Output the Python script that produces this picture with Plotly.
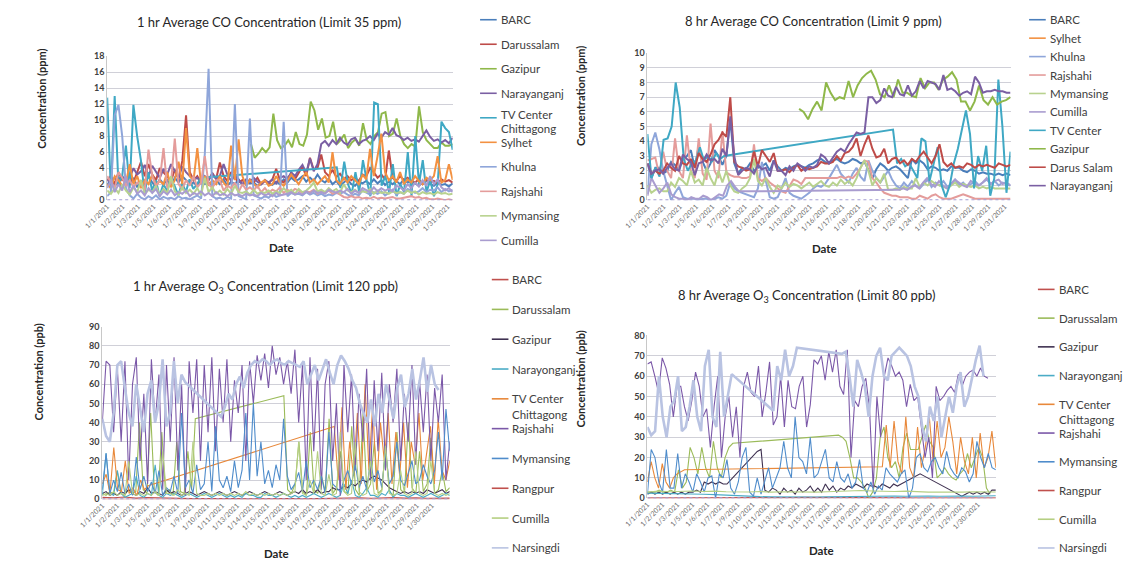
import numpy as np
import plotly.graph_objects as go

W, H = 1126, 567

# ---------------- tick labels ----------------
ticks_top = ["1/1/2021", "1/2/2021", "1/3/2021", "1/5/2021", "1/6/2021", "1/7/2021", "1/9/2021",
             "1/10/2021", "1/12/2021", "1/13/2021", "1/14/2021", "1/16/2021", "1/17/2021", "1/18/2021",
             "1/20/2021", "1/21/2021", "1/23/2021", "1/24/2021", "1/25/2021", "1/27/2021", "1/28/2021",
             "1/29/2021", "1/31/2021"]
ticks_bottom = ["1/1/2021", "1/2/2021", "1/3/2021", "1/5/2021", "1/6/2021", "1/7/2021", "1/9/2021",
                "1/10/2021", "1/11/2021", "1/13/2021", "1/14/2021", "1/15/2021", "1/17/2021", "1/18/2021",
                "1/19/2021", "1/21/2021", "1/22/2021", "1/23/2021", "1/25/2021", "1/26/2021", "1/27/2021",
                "1/29/2021", "1/30/2021"]

# ---------------- 1 hr CO (ppm) ----------------
co1_barc = [2.0, 2.4, 1.8, 2.2, 1.5, 2.6, 2.0, 2.8, 1.6, 2.4, 2.0, 3.0, 2.2, 1.8, 2.6, 2.0, 2.5, 1.7,
            2.8, 2.2, 3.0, 2.5, 2.0, 2.2, 1.8, 2.4, 2.0, 2.2, 1.6, 2.5, 2.0, 2.6, 1.8, 2.3, 2.0, 2.6,
            1.9, 2.4, 2.1, 2.2, 1.8, 2.0, 2.5, 2.1, 1.9, 2.3, 2.0, 2.6, 2.2, 2.8, 2.4, 2.6, 3.0, 2.3,
            2.8, 2.4, 3.2, 2.5, 2.2, 2.7, 2.0, 2.4, 1.8, 2.2, 2.6, 2.0, 1.8, 2.3, 2.1, 2.4, 2.0, 2.6,
            2.1, 2.5, 1.9, 2.3, 2.0, 2.4, 2.0, 2.6, 2.2, 2.4, 2.1, 1.8, 2.2, 2.5, 2.0, 1.8, 2.2, 1.9,
            2.0, 1.7, 2.1]
co1_darussalam = [2.5, 3.0, 2.0, 3.5, 2.5, 2.8, 3.0, 2.2, 3.5, 4.8, 3.0, 4.5, 3.2, 2.5, 4.0, 3.5, 3.0,
                  2.4, 3.8, 2.6, 4.9, 10.6, 3.5, 2.5, 3.0, 2.2, 2.8, 2.5, 3.4, 2.6, 4.7, 3.0, 2.4, 3.5,
                  2.8, 2.2, 2.5, 2.0, 2.6, 2.2, 2.8, 2.0, 2.4, 2.1, 2.6, 3.9, 2.5, 2.2, 2.8, 3.2, 2.6,
                  3.5, 4.2, 3.0, 5.3, 3.8, 4.0, 5.7, 3.5, 3.0, 3.8, 2.9, 3.3, 2.6, 3.0, 2.5, 2.8, 2.4,
                  3.2, 3.0, 4.0, 3.5, 2.8, 3.2, 2.6, 6.2, 2.8, 2.4, 3.0, 2.5, 2.8, 2.4, 2.2, 2.6, 2.0,
                  2.5, 2.2, 2.4, 2.1, 2.6, 2.3, 2.5, 2.2]
co1_gazipur = [7.0, 5.3, 5.8, 6.5, 6.0, 6.6, 10.8, 7.5, 6.5, 6.8, 7.5, 6.6, 8.5, 7.0, 6.8, 8.2, 12.3,
               11.2, 8.8, 10.2, 7.8, 8.0, 9.8, 7.0, 7.5, 8.2, 6.5, 7.2, 7.6, 6.8, 9.6, 7.5, 7.0, 8.0,
               8.5, 10.8, 11.0, 8.0, 8.3, 10.2, 8.0, 7.0, 6.5, 7.0, 6.7, 11.7, 8.5, 7.5, 7.0, 6.5,
               6.5, 7.2, 6.8, 6.8, 7.0]
co1_narayanganj = [2.5, 2.3, 2.8, 2.6, 3.0, 2.4, 2.8, 4.0, 3.2, 3.6, 4.4, 3.0, 4.3, 3.5, 2.8, 3.9, 3.2,
                   4.5, 3.6, 2.8, 4.2, 3.5, 3.0, 2.5, 2.8, 2.2, 3.0, 2.5, 3.3, 2.7, 3.0, 4.5, 3.2, 2.4,
                   3.1, 2.6, 2.0, 2.6, 2.2, 2.8, 2.3, 2.0, 2.5, 2.2, 2.6, 2.1, 2.8, 3.0, 2.6, 3.5, 3.0,
                   3.8, 4.4, 3.4, 5.2, 3.6, 4.5, 7.0, 7.4, 6.8, 7.5, 7.0, 7.8, 7.2, 6.9, 7.6, 7.8, 7.0,
                   7.4, 7.6, 8.0, 7.5, 8.3, 7.8, 8.5, 8.2, 9.0, 8.1, 7.9, 7.5, 7.8, 7.4, 7.6, 7.3, 8.0,
                   8.7, 7.9, 7.4, 7.6, 7.2, 7.5, 7.1, 7.8]
co1_tvcenter_a = [12.8, 1.0, 13.0, 2.0, 3.0, 6.8, 1.5, 11.9, 8.0, 5.0, 0.8, 3.5, 1.2, 2.5, 0.5, 2.0,
                  1.2, 2.5, 1.8, 0.6, 2.2, 1.0, 2.6, 1.4, 2.0, 2.8]
co1_tvcenter_b = [4.1, 1.5, 4.8, 2.0, 0.8, 3.5, 1.0, 5.0, 2.5, 0.5, 12.2, 12.0, 1.8, 3.0, 1.0, 4.5,
                  0.5, 2.0, 1.0, 6.0, 0.5, 8.0, 2.0, 5.0, 1.0, 2.5, 0.5, 2.0, 9.8, 9.0, 8.5, 6.3]
co1_sylhet = [2.0, 1.5, 3.0, 2.5, 1.8, 2.2, 4.5, 2.0, 3.0, 1.5, 2.5, 2.0, 3.2, 1.8, 2.4, 2.0, 3.5, 1.6,
              2.5, 4.8, 2.0, 9.0, 3.0, 2.5, 6.5, 2.0, 3.0, 1.8, 2.5, 2.0, 3.0, 2.2, 1.6, 6.8, 2.5, 7.6,
              3.0, 1.8, 2.5, 2.0, 1.6, 2.2, 2.5, 1.8, 2.0, 3.0, 2.2, 1.8, 2.4, 3.2, 2.6, 2.0, 2.8, 3.5,
              2.2, 2.6, 2.0, 2.5, 3.0, 2.2, 6.0, 2.5, 2.0, 2.8, 2.2, 3.0, 2.5, 2.0, 3.2, 2.6, 6.4, 3.0,
              5.5, 8.3, 3.5, 2.5, 3.0, 2.2, 3.5, 2.0, 2.6, 2.2, 3.0, 2.4, 2.0, 2.8, 2.5, 3.0, 5.5, 2.2,
              2.5, 4.5, 2.5]
co1_khulna = [0.5, 1.0, 10.6, 11.9, 8.0, 1.5, 0.6, 0.2, 0.8, 0.3, 0.1, 0.5, 0.2, 0.6, 0.1, 0.4, 0.2,
              0.3, 0.1, 0.5, 0.2, 0.3, 0.1, 0.4, 0.6, 0.2, 5.8, 16.4, 0.5, 0.2, 0.3, 0.1, 0.4, 0.2,
              12.0, 0.5, 0.3, 0.1, 10.2, 0.6, 0.4, 0.2, 0.5, 0.3, 0.8, 0.4, 0.6, 9.8, 0.5, 0.9, 0.7,
              0.8, 0.6, 1.0, 0.7, 0.9, 0.6, 0.8, 0.5, 0.7, 0.6, 0.9, 0.8, 1.0, 0.7, 0.5, 0.8, 0.6,
              1.2, 0.9, 0.7, 1.0, 0.8, 1.1, 0.6, 0.9, 1.3, 0.7, 1.0, 0.8, 1.4, 1.2, 0.9, 1.1, 1.5,
              1.0, 1.3, 1.2, 1.6, 1.0, 1.4, 1.1, 1.3]
co1_rajshahi = [3.0, 2.2, 1.5, 3.5, 2.8, 1.8, 2.5, 1.6, 2.2, 2.0, 1.2, 6.3, 3.0, 1.8, 2.5, 6.5, 1.5,
                2.2, 7.7, 2.0, 1.4, 2.5, 1.8, 3.0, 1.6, 2.2, 5.5, 2.0, 1.5, 2.5, 2.5, 1.2, 1.8, 1.5,
                2.2, 1.0, 2.0, 1.3, 1.6, 1.2, 1.8, 1.0, 1.5, 0.9, 1.3, 1.1, 1.6, 0.9, 1.3, 1.0, 1.4,
                1.2, 0.9, 1.1, 1.0, 1.3, 0.8, 1.1, 0.9, 1.2, 0.8, 1.0, 0.7, 0.4, 0.3, 0.5, 0.3, 0.4,
                0.2, 0.3, 0.2, 0.4, 0.2, 0.3, 0.2, 0.3, 0.4, 0.2, 0.2, 0.3, 0.4, 0.5, 0.3, 0.4, 0.2,
                0.3, 0.1, 0.1, 0.2, 0.1, 0.0, 0.1, 0.0]
co1_mymansing = [1.2, 0.8, 1.5, 0.9, 2.0, 1.2, 0.7, 1.6, 1.0, 2.5, 0.8, 1.3, 1.0, 1.8, 0.6, 1.4, 0.9,
                 3.0, 1.1, 0.7, 1.6, 0.9, 1.3, 0.8, 1.5, 0.6, 2.8, 1.0, 1.6, 0.8, 1.2, 0.7, 1.4, 0.8,
                 1.8, 1.0, 0.9, 1.1, 0.7, 1.3, 0.8, 1.0, 0.9, 1.2, 0.8, 1.1, 0.9, 1.5, 1.0, 1.3, 0.8,
                 1.4, 1.0, 1.2, 1.6, 2.2, 1.1, 1.3, 1.0, 1.5, 1.1, 1.4, 0.9, 2.0, 1.2, 1.0, 1.3, 0.9,
                 1.1, 1.0, 1.4, 0.8, 1.2, 0.9, 1.0, 0.8, 1.1, 0.9, 1.0, 0.8, 1.2, 0.9, 1.1, 0.7, 1.0,
                 0.8, 0.9, 0.7, 1.0, 0.8, 0.9, 0.7, 0.8]
co1_cumilla = [1.5, 2.5, 1.0, 2.0, 1.2, 3.0, 1.0, 1.8, 0.8, 1.2, 0.6, 1.5, 0.9, 1.4, 0.5, 1.1, 0.7,
               1.3, 0.6, 1.0, 0.8, 1.2, 0.5, 0.9, 0.7, 1.1, 0.6, 0.9, 0.5, 1.0, 0.6, 0.8, 0.5, 0.9,
               0.6, 0.7, 0.5, 0.8, 0.6, 0.7, 0.5, 0.9, 0.6, 0.8, 0.5, 0.9, 0.6, 0.7, 0.8, 1.0, 0.7,
               0.9, 0.7, 1.1, 0.8, 1.2, 0.9, 1.0, 0.8, 1.3, 1.1, 0.9, 1.2, 1.0, 1.4, 0.8, 1.2, 0.9,
               1.5, 1.3, 1.0, 1.6, 1.1, 1.5, 1.2, 1.4, 1.1, 1.8, 1.6, 1.2, 2.0, 1.5, 2.2, 1.7, 2.5,
               1.8, 3.0, 2.0, 2.6, 1.6, 1.2, 1.5, 1.0]

# ---------------- 8 hr CO (ppm) ----------------
co8_barc = [2.5, 1.5, 2.2, 2.2, 1.8, 2.0, 2.6, 2.4, 2.0, 2.8, 3.0, 3.4, 2.2, 3.7, 2.6, 2.0, 2.5, 3.4,
            3.0, 2.4, 3.0, 5.5, 2.5, 1.8, 2.2, 2.1, 2.5, 2.0, 2.2, 2.3, 2.5, 2.0, 2.7, 2.3, 2.0, 2.2,
            2.1, 2.3, 2.4, 2.3, 2.2, 2.4, 2.5, 2.7, 2.8, 2.6, 2.5, 2.7, 2.8, 2.6, 2.5, 2.6, 2.8, 2.7,
            2.5, 2.6, 2.0, 1.5, 2.1, 2.5, 2.3, 2.0, 2.2, 2.3, 2.1, 1.8, 1.5, 2.8, 2.5, 2.7, 2.5, 2.1,
            2.3, 2.2, 2.0, 2.1, 2.0, 2.3, 2.2, 2.2, 2.0, 1.9, 2.1, 2.0, 1.8, 1.9, 1.8, 1.8, 1.7, 1.8,
            1.7, 1.8, 1.7]
co8_sylhet = []
co8_khulna = [0.4, 3.8, 4.6, 3.5, 2.0, 1.0, 0.0, 0.5, 0.9, 0.2, 0.1, 0.1, 0.1, 0.0, 0.1, 0.1, 0.0,
              0.1, 0.2, 0.1, 0.3, 1.2, 0.8, 0.6, 0.5, 0.4, 0.3, 0.2, 0.8, 2.6, 1.3, 0.2, 0.1, 0.2,
              0.8, 1.5, 0.5, 0.3, 0.2, 0.1, 0.3, 0.5, 0.8, 1.0, 0.9, 1.1, 1.5, 2.0, 2.4, 1.8, 1.5,
              1.2, 1.8, 2.2, 1.6, 1.3, 2.7, 2.0, 1.5, 1.2, 1.6, 2.0, 1.4, 1.0, 0.8, 1.2, 0.9, 1.3,
              1.0, 0.8, 1.1, 1.4, 0.9, 1.2, 1.0, 1.3, 0.9, 1.1, 1.4, 1.0, 1.2, 0.9, 1.1, 1.3, 1.0,
              1.2, 1.4, 1.1, 1.3, 1.0, 1.2, 1.1, 1.0]
co8_rajshahi = [2.7, 2.8, 2.9, 1.7, 3.3, 2.0, 1.5, 4.2, 2.0, 1.5, 4.4, 2.0, 1.5, 4.2, 1.8, 1.4, 5.2,
                2.0, 1.5, 4.7, 1.9, 1.7, 1.6, 1.6, 1.5, 1.5, 1.6, 3.8, 1.5, 1.3, 1.5, 1.2, 1.0, 0.8,
                0.6, 0.5, 1.0, 1.4, 1.3, 1.1, 1.5, 1.5, 1.5, 1.5, 1.5, 1.5, 1.5, 1.5, 1.5, 1.6, 1.5,
                1.6, 1.5, 1.8, 2.2, 2.7, 2.6, 1.5, 1.2, 0.8, 0.5, 0.4, 0.3, 0.3, 0.2, 0.2, 0.2, 0.1,
                0.1, 0.3, 0.2, 0.1, 0.3, 0.4, 0.2, 0.1, 0.1, 0.1, 0.2, 0.3, 0.4, 0.3, 0.2, 0.1, 0.1,
                0.1, 0.1, 0.1, 0.1, 0.1, 0.1, 0.1, 0.1]
co8_mymansing = [1.0, 0.5, 0.7, 0.8, 0.6, 0.6, 1.2, 0.9, 1.5, 1.3, 1.0, 2.0, 1.2, 1.4, 1.0, 2.2, 1.5,
                 1.0, 2.0, 1.2, 2.0, 1.0, 0.6, 0.5, 0.8, 1.0, 1.5, 2.8, 1.3, 1.0, 1.5, 0.9, 0.5, 1.0,
                 0.8, 1.2, 0.9, 1.1, 1.0, 0.8, 1.0, 1.2, 0.9, 1.1, 1.3, 1.0, 0.9, 1.2, 1.0, 1.4, 1.1,
                 1.3, 1.0, 1.5, 2.2, 2.7, 2.0, 1.0, 1.5, 1.2, 1.8, 0.7, 0.7, 0.8, 0.7, 0.9, 0.8, 0.8,
                 1.5, 0.9, 1.2, 1.0, 1.3, 1.1, 1.0, 0.9, 0.8, 1.0, 1.2, 0.9, 1.1, 1.0, 0.9, 1.0, 0.8,
                 0.9, 0.8, 0.9, 0.8, 0.8, 0.8, 0.8, 0.8]
co8_cumilla_a = [0.3, 1.5, 1.0, 0.5, 0.8, 1.2, 0.4, 0.2, 0.1, 0.1, 0.0, 0.2, 0.1, 0.1, 0.3, 0.2, 0.0,
                 0.2, 0.4, 0.3, 1.0, 1.3, 0.9, 0.6, 0.6, 0.6]
co8_cumilla_b = [0.7, 0.8, 0.7, 0.9, 1.0, 0.8, 1.2, 1.5, 1.1, 0.9, 1.3, 1.0, 0.8, 1.1, 1.4, 1.2, 1.0,
                 0.9, 1.3, 1.1, 1.0, 1.2, 1.5, 1.1, 1.3, 1.4, 1.1, 1.2, 1.0]
co8_tvcenter_a = [4.5, 1.5, 2.2, 1.6, 4.1, 4.2, 5.0, 8.0, 6.3, 2.8, 2.0, 2.5, 2.7, 3.6, 2.7, 3.0, 2.6,
                  3.2, 2.8, 3.0]
co8_tvcenter_b = [4.8, 2.5, 2.8, 2.3, 2.5, 2.0, 1.5, 4.2, 4.0, 1.3, 2.5, 3.6, 1.0, 0.2, 1.0, 2.5, 3.5,
                  4.8, 6.1, 4.5, 0.8, 3.0, 2.0, 3.7, 0.3, 1.5, 8.2, 5.0, 0.5, 3.3]
co8_gazipur = [6.2, 6.0, 5.5, 6.2, 6.7, 6.1, 8.0, 7.3, 6.8, 7.0, 6.9, 8.1, 7.0, 7.8, 8.3, 8.6, 8.8,
               8.2, 7.2, 7.0, 7.8, 7.0, 8.2, 7.3, 7.3, 7.1, 7.0, 8.3, 7.6, 8.0, 8.0, 7.5, 8.2, 8.4,
               8.7, 8.2, 6.7, 6.7, 6.1, 6.7, 7.8, 6.8, 6.5, 7.0, 6.5, 6.7, 6.8, 7.0]
co8_darussalam = [2.5, 1.8, 2.0, 1.8, 2.0, 2.5, 2.2, 2.0, 3.0, 2.5, 2.4, 2.8, 2.2, 3.2, 2.8, 2.6, 3.1,
                  3.8, 4.1, 4.6, 4.3, 7.0, 2.6, 2.3, 2.2, 2.0, 2.1, 3.3, 2.3, 3.4, 3.0, 2.6, 3.2, 2.0,
                  2.0, 2.1, 1.9, 2.2, 2.4, 2.0, 2.2, 2.1, 2.2, 2.3, 2.6, 2.5, 2.5, 2.6, 3.0, 2.7, 3.2,
                  3.3, 3.6, 4.2, 3.0, 3.8, 4.4, 3.5, 2.9, 3.0, 3.5, 2.5, 2.8, 2.9, 2.5, 2.7, 2.4, 2.8,
                  2.6, 3.0, 3.3, 2.9, 2.5, 3.0, 3.8, 2.6, 2.3, 2.5, 2.2, 2.3, 2.2, 2.5, 2.4, 2.2, 2.4,
                  2.3, 2.4, 2.3, 2.2, 2.5, 2.4, 2.3, 2.4]
co8_narayanganj = [2.5, 1.8, 2.0, 2.1, 1.8, 2.2, 2.5, 2.1, 2.0, 3.1, 2.8, 2.6, 1.7, 2.5, 2.6, 3.1, 2.7,
                   2.8, 2.5, 3.5, 3.0, 5.7, 3.0, 1.7, 2.0, 2.2, 2.1, 1.8, 2.4, 2.1, 2.2, 1.6, 2.7, 2.0,
                   2.0, 1.7, 2.3, 2.0, 2.5, 2.3, 2.0, 2.3, 2.2, 2.4, 3.1, 2.9, 2.5, 2.9, 3.3, 3.5, 3.3,
                   3.8, 4.2, 4.6, 4.5, 4.6, 7.0, 7.0, 6.6, 6.8, 7.6, 7.1, 7.0, 7.7, 7.2, 7.1, 7.8, 7.1,
                   7.4, 8.1, 7.6, 8.1, 8.0, 7.9, 7.5, 8.5, 7.5, 7.6, 7.4, 7.1, 7.3, 7.4, 7.2, 8.4, 8.0,
                   7.3, 7.4, 7.4, 7.5, 7.4, 7.4, 7.3, 7.3]

# ---------------- 1 hr O3 (ppb) ----------------
o31_barc = [1.0, 0.8, 1.2, 0.6, 0.9, 0.7, 0.5, 0.4, 0.3, 0.3, 0.4, 0.3, 0.3, 0.2, 0.3, 0.4, 0.3, 0.3,
            0.2, 0.3, 0.4, 0.3, 0.6, 0.8, 0.5, 0.7, 0.9, 0.6, 0.8, 0.5, 0.7, 0.6]
o31_darussalam_a = [3, 2, 4, 3, 15, 3, 2, 5, 3, 4, 40, 5, 3, 45, 4, 2, 35, 3, 5, 2, 30, 4, 3, 25, 5, 42]
o31_darussalam_b = [54, 5, 3, 8, 30, 4, 2, 35, 5, 3, 12, 4, 42, 3, 6, 25, 4, 3, 38, 5, 2, 45, 4, 8, 30,
                    3, 5, 28, 4, 2, 35, 5, 3, 40, 6, 3, 25, 4, 8, 32, 3, 5, 15, 4, 6]
o31_gazipur = [3, 4, 2, 3, 2, 4, 3, 5, 3, 2, 4, 3, 6, 3, 4, 3, 2, 5, 3, 4, 3, 2, 3, 4, 3, 2, 3, 4, 3,
               2, 3, 4, 3, 2, 3, 4, 3, 2, 3, 4, 3, 2, 3, 4, 3, 2, 3, 4, 3, 2, 3, 4, 3, 5, 3, 4, 3, 5,
               3, 4, 4, 6, 5, 5, 7, 6, 8, 7, 9, 10, 9, 11, 12, 11, 10, 8, 6, 5, 4, 3, 4, 3, 4, 3, 4,
               3, 5, 4, 3, 4, 5, 3, 4]
o31_narayonganj = [2, 24, 3, 2, 15, 3, 1, 2, 3, 12, 2, 1, 3, 2, 18, 2, 1, 3, 2, 3, 2, 1, 2, 3, 2, 1, 2,
                   3, 2, 1, 2, 3, 2, 1, 2, 1, 2, 1, 3, 2, 2, 1, 1, 3, 2, 2, 1, 2, 3, 2, 1, 2, 1, 2, 1,
                   2, 3, 2, 1, 2, 3, 2, 1, 2, 8, 3, 10, 2, 1, 3, 6, 2, 2, 1, 3, 2, 5, 1, 3, 2, 2, 1, 2,
                   3, 2, 1, 2, 3, 2, 1, 2, 3, 2]
o31_tvcenter_a = [8, 13, 3, 27, 5, 4, 20, 3, 6, 2, 10, 5, 7]
o31_tvcenter_b = [38, 10, 48, 5, 30, 12, 45, 8, 60, 15, 50, 5, 40, 20, 45, 8, 35, 12, 40, 6, 30, 18, 45,
                  10, 25, 38, 8, 42, 15, 10, 20]
o31_rajshahi = [40, 72, 70, 35, 68, 30, 72, 10, 60, 74, 20, 55, 8, 73, 40, 65, 5, 70, 30, 74, 15, 60,
                2, 72, 45, 73, 20, 70, 35, 74, 25, 68, 40, 73, 30, 62, 45, 70, 20, 72, 50, 75, 62, 76,
                58, 80, 65, 74, 60, 72, 55, 78, 40, 70, 10, 74, 25, 68, 5, 60, 72, 20, 50, 2, 70, 35,
                65, 15, 55, 30, 68, 10, 62, 25, 66, 15, 60, 40, 68, 20, 55, 30, 70, 18, 62, 35, 65,
                20, 58, 40, 65, 10, 30]
o31_mymansing = [5, 24, 3, 10, 4, 14, 3, 8, 2, 22, 5, 12, 4, 9, 3, 15, 2, 6, 4, 12, 3, 45, 6, 10, 3, 18,
                 5, 8, 30, 4, 38, 10, 6, 12, 4, 20, 6, 15, 45, 10, 50, 12, 30, 8, 15, 6, 18, 10, 42, 12,
                 5, 8, 14, 4, 20, 6, 10, 5, 12, 3, 35, 8, 6, 4, 10, 15, 8, 18, 6, 12, 5, 20, 9, 15, 6,
                 25, 8, 12, 30, 10, 7, 14, 20, 8, 10, 18, 12, 8, 15, 35, 10, 47, 25]
o31_rangpur = [0, 0, 0, 0, 0, 0, 0, 0, 0, 0, 0, 0, 0, 0, 0, 0, 0, 0, 0, 0, 0, 0, 0, 0, 0, 0, 0, 0, 0, 0,
               0, 0]
o31_cumilla = [2, 3, 2, 4, 2, 3, 2, 20, 3, 2, 3, 2, 3, 2, 4, 2, 25, 3, 3, 2, 5, 2, 3, 2, 30, 3, 2, 2, 3,
               2, 3, 2, 3, 2, 3, 2, 3, 2, 4, 2, 3, 2, 3, 2, 3, 2, 3, 2, 3, 2, 3, 4, 30, 3, 2, 10, 3,
               25, 3, 2, 13, 2, 3, 35, 4, 2, 3, 30, 4, 2, 3, 20, 3, 2, 4, 28, 3, 2, 3, 15, 3, 2, 3, 25,
               3, 2, 3, 20, 3, 2, 3, 2, 3]
o31_narsingdi_a = [42, 33, 30, 45, 70, 72, 58, 45, 38, 60, 48, 35, 55, 62, 40, 50, 73, 38, 45, 72, 50,
                   65, 61]
o31_narsingdi_b = [43, 48, 55, 52, 60, 64, 58, 66, 70, 72, 71, 73, 72, 70, 72, 73, 71, 70, 72, 71, 70,
                   69, 72, 60, 65, 70, 62, 68, 73, 66, 60, 70, 75, 72, 68, 62, 58, 50, 45, 40, 52, 38,
                   55, 45, 60, 50, 42, 58, 65, 48, 55, 68, 52, 62, 74, 56, 70, 60, 57]

# ---------------- 8 hr O3 (ppb) ----------------
o38_barc = [0.1, 0.1, 0.1, 0.1, 0.1, 0.1, 0.1, 0.2, 0.3, 0.3, 0.3, 0.3, 0.4, 0.4, 0.5, 0.5, 0.5, 0.5,
            0.5, 0.5, 0.5, 0.5, 0.4, 0.2, 0.1, 0.1, 0.1, 0.1, 0.1, 0.1, 0.1, 0.1]
o38_darussalam_a = [3, 3, 3, 4, 3, 3, 4, 3, 14, 5, 8, 25, 20, 12, 25, 15, 10, 28, 15, 10, 20, 25, 27]
o38_darussalam_b = [31, 30, 28, 20, 10, 10, 8, 5, 0, 3, 10, 30, 35, 20, 15, 18, 10, 25, 32, 24, 24, 24,
                    30, 36, 28, 25, 10, 12, 15, 12, 10, 9, 12, 14, 22, 15, 20, 25, 20, 5, 2]
o38_gazipur = [2, 3, 2, 3, 2, 3, 2, 3, 2, 3, 2, 3, 3, 4, 3, 8, 7, 8, 7, 8, 7, 7, 9, 11, 13, 15, 17, 19,
               21, 23, 24, 4, 3, 5, 4, 2, 5, 3, 4, 2, 5, 3, 4, 6, 3, 5, 3, 7, 4, 6, 3, 5, 4, 6, 5, 7,
               6, 5, 7, 6, 6, 5, 7, 6, 5, 7, 6, 7, 8, 9, 10, 11, 12, 11, 10, 9, 8, 7, 6, 5, 4, 3, 2, 1,
               2, 3, 2, 3, 2, 3, 2, 4, 4]
o38_narayonganj = [2.5, 2.4, 2.6, 2.3, 2.2, 2.0, 1.8, 1.5, 1.2, 1.0, 0.8, 0.7, 0.6, 0.5, 0.5, 0.6, 0.7,
                   0.8, 0.8, 0.9, 1.0, 1.0, 1.1, 1.0, 1.2, 1.1, 1.0, 1.2, 1.1, 1.0, 1.1, 1.2]
o38_tvcenter_a = [8, 18, 10, 5, 17, 8, 5, 10, 12, 13, 14]
o38_tvcenter_b = [15.5, 36, 15, 38, 18, 12, 40, 15, 10, 35, 15, 25, 40, 18, 38, 20, 25, 40, 28, 12, 30,
                  18, 12, 30, 10, 32, 15, 20, 33, 15]
o38_rajshahi = [66, 67, 60, 52, 69, 64, 56, 40, 55, 55, 45, 38, 48, 62, 55, 40, 44, 25, 45, 60, 20, 40,
                50, 30, 45, 20, 55, 62, 52, 50, 65, 40, 52, 67, 36, 40, 60, 35, 58, 45, 44, 55, 60, 35,
                46, 68, 66, 70, 58, 72, 62, 73, 55, 51, 73, 20, 48, 45, 55, 59, 44, 5, 50, 30, 60, 69,
                65, 60, 62, 58, 45, 56, 48, 50, 35, 20, 30, 10, 55, 48, 50, 53, 55, 52, 61, 55, 60, 62,
                63, 60, 64, 60, 59]
o38_mymansing = [2, 24, 20, 8, 3, 24, 5, 5, 22, 5, 12, 8, 3, 12, 8, 3, 10, 11, 0, 12, 10, 19, 5, 2, 8,
                 20, 25, 3, 1, 10, 2, 8, 15, 5, 10, 15, 28, 15, 10, 40, 20, 18, 12, 30, 10, 12, 18, 24,
                 10, 8, 18, 10, 8, 12, 5, 8, 19, 5, 3, 8, 2, 6, 4, 15, 12, 10, 8, 12, 14, 0, 5, 20, 22,
                 15, 13, 18, 20, 15, 12, 23, 15, 12, 10, 15, 13, 8, 12, 28, 20, 15, 22, 15, 14]
o38_rangpur = [0, 0, 0, 0, 0, 0, 0, 0, 0, 0, 0, 0, 0, 0, 0, 0, 0, 0, 0, 0, 0, 0, 0, 0, 0, 0, 0, 0, 0, 0,
               0, 0]
o38_cumilla = [3.0, 3.5, 3.2, 3.4, 3.6, 3.3, 3.5, 3.2, 3.0, 3.1, 3.3, 3.0, 3.2, 3.1, 2.9, 3.0, 3.2, 3.4,
               3.5, 3.8, 3.6, 3.4, 3.3, 3.5, 3.2, 3.0, 3.1, 2.9, 3.0, 3.2, 3.3, 3.1]
o38_narsingdi_a = [35, 31, 33, 60, 40, 30, 45, 48, 60, 33, 35, 45, 58, 40, 33, 65, 73, 40, 35, 72, 40,
                   50, 61]
o38_narsingdi_b = [43, 65, 58, 73, 60, 65, 74]
o38_narsingdi_c = [71, 72, 60, 45, 68, 62, 55, 40, 60, 70, 74, 60, 58, 70, 72, 74, 72, 70, 65, 55, 50,
                   35, 28, 45, 38, 50, 30, 40, 50, 42, 55, 62, 45, 50, 60, 68, 75, 60]

# ---------------- legend labels ----------------
legend_co1 = ["BARC", "Darussalam", "Gazipur", "Narayanganj", "TV Center", "Sylhet", "Khulna",
              "Rajshahi", "Mymansing", "Cumilla"]
legend_co8 = ["BARC", "Sylhet", "Khulna", "Rajshahi", "Mymansing", "Cumilla", "TV Center", "Gazipur",
              "Darus Salam", "Narayanganj"]
legend_o3 = ["BARC", "Darussalam", "Gazipur", "Narayonganj", "TV Center", "Rajshahi", "Mymansing",
             "Rangpur", "Cumilla", "Narsingdi"]

FULL = (1.0, 32.0)

# series: (legend label, segments [(day span, values)])
co1_series = [
    ("BARC", [(FULL, co1_barc)]),
    ("Darussalam", [(FULL, co1_darussalam)]),
    ("Gazipur", [((13.9, 32.0), co1_gazipur)]),
    ("Narayanganj", [(FULL, co1_narayanganj)]),
    ("TV Center", [((1.0, 9.4), co1_tvcenter_a), ((21.6, 32.0), co1_tvcenter_b)]),
    ("Sylhet", [(FULL, co1_sylhet)]),
    ("Khulna", [(FULL, co1_khulna)]),
    ("Rajshahi", [(FULL, co1_rajshahi)]),
    ("Mymansing", [(FULL, co1_mymansing)]),
    ("Cumilla", [(FULL, co1_cumilla)]),
]
co8_series = [
    ("BARC", [(FULL, co8_barc)]),
    ("Sylhet", [(FULL, co8_sylhet)]),
    ("Khulna", [(FULL, co8_khulna)]),
    ("Rajshahi", [(FULL, co8_rajshahi)]),
    ("Mymansing", [(FULL, co8_mymansing)]),
    ("Cumilla", [((1.0, 9.5), co8_cumilla_a), ((22.5, 32.0), co8_cumilla_b)]),
    ("TV Center", [((1.0, 7.55), co8_tvcenter_a), ((21.97, 32.0), co8_tvcenter_b)]),
    ("Gazipur", [((13.95, 32.0), co8_gazipur)]),
    ("Darus Salam", [(FULL, co8_darussalam)]),
    ("Narayanganj", [(FULL, co8_narayanganj)]),
]
o31_series = [
    ("BARC", [(FULL, o31_barc)]),
    ("Darussalam", [((1.0, 9.3), o31_darussalam_a), ((17.2, 32.0), o31_darussalam_b)]),
    ("Gazipur", [(FULL, o31_gazipur)]),
    ("Narayonganj", [(FULL, o31_narayonganj)]),
    ("TV Center", [((1.0, 5.1), o31_tvcenter_a), ((21.7, 32.0), o31_tvcenter_b)]),
    ("Rajshahi", [(FULL, o31_rajshahi)]),
    ("Mymansing", [(FULL, o31_mymansing)]),
    ("Rangpur", [(FULL, o31_rangpur)]),
    ("Cumilla", [(FULL, o31_cumilla)]),
    ("Narsingdi", [((1.0, 8.4), o31_narsingdi_a), ((11.6, 31.0), o31_narsingdi_b)]),
]
o38_series = [
    ("BARC", [(FULL, o38_barc)]),
    ("Darussalam", [((1.0, 8.6), o38_darussalam_a), ((18.0, 31.5), o38_darussalam_b)]),
    ("Gazipur", [(FULL, o38_gazipur)]),
    ("Narayonganj", [(FULL, o38_narayonganj)]),
    ("TV Center", [((1.0, 4.3), o38_tvcenter_a), ((21.9, 32.0), o38_tvcenter_b)]),
    ("Rajshahi", [((1.0, 31.3), o38_rajshahi)]),
    ("Mymansing", [(FULL, o38_mymansing)]),
    ("Rangpur", [(FULL, o38_rangpur)]),
    ("Cumilla", [(FULL, o38_cumilla)]),
    ("Narsingdi", [((1.0, 8.5), o38_narsingdi_a), ((12.2, 14.3), o38_narsingdi_b),
                   ((18.3, 30.9), o38_narsingdi_c)]),
]

# ---------------- styling ----------------
co_colors = {"BARC": "#4A7EBB", "Darussalam": "#BE4B48", "Darus Salam": "#BE4B48", "Gazipur": "#8FB84A",
             "Narayanganj": "#7A5FA3", "TV Center": "#3FA8C4", "Sylhet": "#F39141", "Khulna": "#8FA6DA",
             "Rajshahi": "#E49C9B", "Mymansing": "#B8D28E", "Cumilla": "#A99CCF"}
o3_colors = {"BARC": "#C0504D", "Darussalam": "#9BBB59", "Gazipur": "#3F3151", "Narayonganj": "#4BACC6",
             "TV Center": "#E8883A", "Rajshahi": "#7B58A8", "Mymansing": "#4F8CCB", "Rangpur": "#C0504D",
             "Cumilla": "#B5CF82", "Narsingdi": "#B9C3E2"}

FONT = "Lato, 'Open Sans', sans-serif"
TXT = "#404040"
LEG_SIZE = 11.5


def px(x):
    return x / W


def py(y):
    return 1 - y / H


panels = [
    dict(series=co1_series, colors=co_colors, lw=2.0, xd=(85, 438), yd=(51, 198), yr=18, dt=2,
         ticks=ticks_top, last=31.56, title="1 hr Average CO Concentration (Limit 35 ppm)",
         tpos=(250, 16), ytitle="Concentration (ppm)", ypos=(18, 95), dpos=(263, 246),
         legend=legend_co1, lx=466, ly0=14, ldy=25.0, wrap=(-3, 11)),
    dict(series=co8_series, colors=co_colors, lw=2.0, xd=(637, 1008), yd=(48, 198), yr=10, dt=1,
         ticks=ticks_top, last=31.5, title="8 hr Average CO Concentration (Limit 9 ppm)",
         tpos=(807, 15), ytitle="Concentration (ppm)", ypos=(568, 92), dpos=(818, 247),
         legend=legend_co8, lx=1027, ly0=14, ldy=18.8, wrap=None),
    dict(series=o31_series, colors=o3_colors, lw=1.1, xd=(80, 435), yd=(327, 503), yr=90, dt=10,
         ticks=ticks_bottom, last=30.4, title="1 hr Average O<sub>3</sub> Concentration (Limit 120 ppb)",
         tpos=(247, 287), ytitle="Concentration (ppb)", ypos=(15, 373), dpos=(258, 558),
         legend=legend_o3, lx=478, ly0=279, ldy=30.4, wrap=(0, 16)),
    dict(series=o38_series, colors=o3_colors, lw=1.1, xd=(637, 993), yd=(336, 502), yr=80, dt=10,
         ticks=ticks_bottom, last=30.4, title="8 hr Average O<sub>3</sub> Concentration (Limit 80 ppb)",
         tpos=(800, 296), ytitle="Concentration (ppb)", ypos=(569, 380), dpos=(815, 555),
         legend=legend_o3, lx=1036, ly0=289, ldy=29.3, wrap=(0, 15)),
]

fig = go.Figure()
annotations = []
shapes = []
layout_axes = {}

for i, p in enumerate(panels):
    k = "" if i == 0 else str(i + 1)
    xa, ya = "x" + k, "y" + k
    for name, segs in p["series"]:
        xs, ys = [], []
        for (d0, d1), vals in segs:
            if len(vals):
                xs.extend(np.linspace(d0, d1, len(vals)).tolist())
                ys.extend(vals)
        width = 2.6 if name == "Narsingdi" else p["lw"]
        fig.add_trace(go.Scatter(x=xs, y=ys, mode="lines", name=name, showlegend=False,
                                 line=dict(color=p["colors"][name], width=width),
                                 xaxis=xa, yaxis=ya, hoverinfo="skip"))

    tickvals = np.linspace(1.0, p["last"], len(p["ticks"])).tolist()
    layout_axes["xaxis" + k] = dict(
        domain=[px(p["xd"][0]), px(p["xd"][1])], anchor=ya, range=[1, 32],
        tickvals=tickvals, ticktext=p["ticks"], tickangle=-45,
        tickfont=dict(family=FONT, size=7, color="#6E6E6E"),
        showgrid=False, zeroline=False, showline=False, ticks="")
    layout_axes["yaxis" + k] = dict(
        domain=[py(p["yd"][1]), py(p["yd"][0])], anchor=xa, range=[0, p["yr"]], dtick=p["dt"],
        tickfont=dict(family=FONT, size=9, color=TXT, weight="bold"),
        showgrid=True, gridcolor="#D0D0D8", gridwidth=1, zeroline=False,
        showline=True, linecolor="#C8C8C8", linewidth=1, ticks="")

    # dotted baseline at zero
    shapes.append(dict(type="line", xref=xa, yref=ya, x0=1, x1=32, y0=0, y1=0,
                       line=dict(color="#A59ED3", width=2, dash="dot"), layer="above"))

    # titles
    annotations.append(dict(x=px(p["tpos"][0]), y=py(p["tpos"][1]), xref="paper", yref="paper",
                            text=p["title"], showarrow=False, xanchor="center", yanchor="middle",
                            font=dict(family=FONT, size=13, color="#262626")))
    annotations.append(dict(x=px(p["ypos"][0]), y=py(p["ypos"][1]), xref="paper", yref="paper",
                            text=p["ytitle"], showarrow=False, textangle=-90, xanchor="center",
                            yanchor="middle", font=dict(family=FONT, size=11, color="#262626",
                                                        weight="bold")))
    annotations.append(dict(x=px(p["dpos"][0]), y=py(p["dpos"][1]), xref="paper", yref="paper",
                            text="Date", showarrow=False, xanchor="center", yanchor="middle",
                            font=dict(family=FONT, size=11.5, color="#262626", weight="bold")))

    # legend rows
    for j, name in enumerate(p["legend"]):
        yrow = p["ly0"] + j * p["ldy"]
        shapes.append(dict(type="line", xref="paper", yref="paper",
                           x0=px(p["lx"]), x1=px(p["lx"] + 17), y0=py(yrow), y1=py(yrow),
                           line=dict(color=p["colors"][name], width=1.6)))
        text_y = yrow
        if name == "TV Center" and p["wrap"]:
            text_y = yrow + p["wrap"][0]
            annotations.append(dict(x=px(p["lx"] + 19), y=py(yrow + p["wrap"][1]), xref="paper",
                                    yref="paper", text="Chittagong", showarrow=False, xanchor="left",
                                    yanchor="middle",
                                    font=dict(family=FONT, size=LEG_SIZE, color=TXT)))
        annotations.append(dict(x=px(p["lx"] + 19), y=py(text_y), xref="paper", yref="paper",
                                text=name, showarrow=False, xanchor="left", yanchor="middle",
                                font=dict(family=FONT, size=LEG_SIZE, color=TXT)))

fig.update_layout(width=W, height=H, margin=dict(l=0, r=0, t=0, b=0),
                  paper_bgcolor="white", plot_bgcolor="white",
                  annotations=annotations, shapes=shapes, **layout_axes)

fig.write_html("out.html")
